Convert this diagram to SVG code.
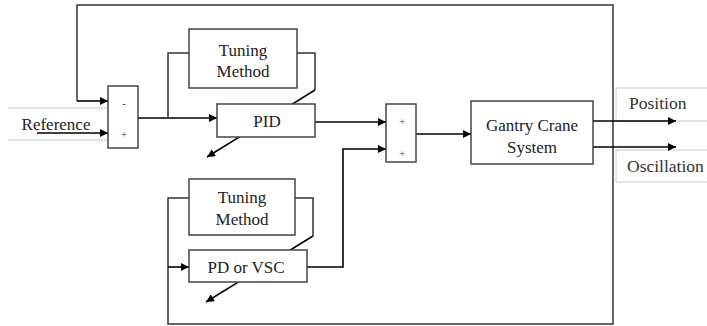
<svg xmlns="http://www.w3.org/2000/svg" width="707" height="326" viewBox="0 0 707 326">
<defs>
<marker id="arr" viewBox="0 0 10 10" refX="10" refY="5" markerWidth="10" markerHeight="8" markerUnits="userSpaceOnUse" orient="auto">
<path d="M0,0 L10,5 L0,10 Z" fill="#000"/>
</marker>
</defs>
<style>
.box{fill:#fff;stroke:#444;stroke-width:1.5}
.ln{fill:none;stroke:#333;stroke-width:1.5}
.ar{fill:none;stroke:#000;stroke-width:1.6;marker-end:url(#arr)}
.gray{fill:none;stroke:#c8c8c8;stroke-width:1}
text{font-family:'Liberation Serif','Times New Roman',Times,serif}
.t{font-size:17px;fill:#222;text-anchor:middle}
.s{font-size:11px;fill:#333;text-anchor:middle}
.o{font-size:17.5px;fill:#333}
</style>
<g id="io-frames">
<path class="gray" d="M8,108 H108 M8,140 H108"/>
<path class="gray" d="M707,88 H616 V121 H707 M707,150 H616 V182 H707"/>
</g>
<g id="connectors">
<path class="ln" d="M77,101 V5 H613 V324 H168 V198 H189"/>
<path class="ar" d="M77,101 H108"/>
<path class="ar" d="M37,133 H108"/>
<path class="ar" d="M138,118 H217"/>
<path class="ln" d="M168,118 V53 H189"/>
<path class="ln" d="M297,53 H315 V90"/>
<path class="ar" d="M315,90 L207,157"/>
<path class="ar" d="M168,267 H189"/>
<path class="ln" d="M295,198 H313 V236"/>
<path class="ar" d="M313,236 L206,302"/>
<path class="ar" d="M315,122 H386"/>
<path class="ar" d="M307,267 H343 V149 H386"/>
<path class="ar" d="M416,134 H471"/>
<path class="ar" d="M593,121 H676"/>
<path class="ar" d="M593,147 H676"/>
</g>
<g id="sum1">
<rect class="box" x="108" y="86" width="30" height="62"/>
<text class="s" x="124" y="107">-</text>
<text class="s" x="124" y="138">+</text>
</g>
<g id="tuning1">
<rect class="box" x="189" y="29" width="108" height="59"/>
<text class="t" x="243" y="56">Tuning</text>
<text class="t" x="243" y="77">Method</text>
</g>
<g id="pid">
<rect class="box" x="217" y="104" width="98" height="33"/>
<text class="t" x="267" y="127">PID</text>
</g>
<g id="tuning2">
<rect class="box" x="189" y="179" width="106" height="56"/>
<text class="t" x="242" y="203">Tuning</text>
<text class="t" x="242" y="225">Method</text>
</g>
<g id="pdvsc">
<rect class="box" x="189" y="250" width="118" height="32"/>
<text class="t" x="246" y="273">PD or VSC</text>
</g>
<g id="sum2">
<rect class="box" x="386" y="104" width="30" height="58"/>
<text class="s" x="402" y="125">+</text>
<text class="s" x="402" y="157">+</text>
</g>
<g id="plant">
<rect class="box" x="471" y="101" width="122" height="63"/>
<text class="t" x="532" y="131">Gantry Crane</text>
<text class="t" x="532" y="153">System</text>
</g>
<g id="labels">
<text class="t" x="56" y="130">Reference</text>
<text class="o" x="629" y="109">Position</text>
<text class="o" x="627" y="172">Oscillation</text>
</g>
</svg>
